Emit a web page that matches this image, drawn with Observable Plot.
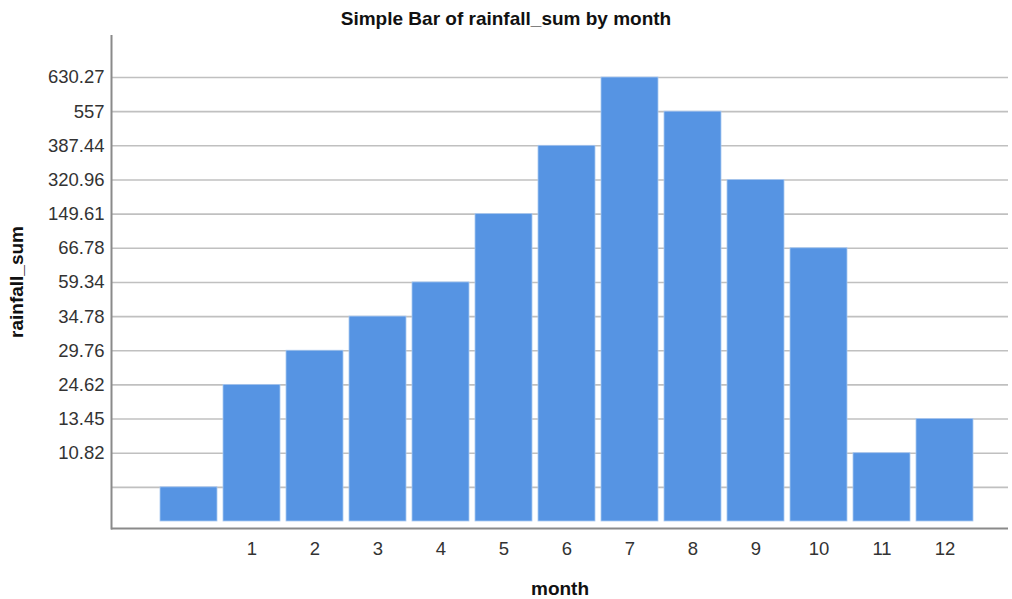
<!DOCTYPE html>
<html>
<head>
<meta charset="utf-8">
<script src="https://cdn.jsdelivr.net/npm/d3@7"></script>
<script src="https://cdn.jsdelivr.net/npm/@observablehq/plot@0.6"></script>
<style>
  body { margin: 0; background: #fff; font-family: Arial, "Liberation Sans", sans-serif; }
  #title { height: 35px; width: 1012px; text-align: center; font-weight: bold; font-size: 19px; line-height: 38px; color: #111; white-space: nowrap; }
  svg { display: block; }
</style>
</head>
<body>
<div id="title">Simple Bar of rainfall_sum by month</div>
<div id="chart"></div>
<script>
// Category order of the x axis (first category is blank / missing)
const months = ["", "1", "2", "3", "4", "5", "6", "7", "8", "9", "10", "11", "12"];
// rainfall_sum per month, as shown (treated as categories by the original chart)
const rainfall = ["", "24.62", "29.76", "34.78", "59.34", "149.61", "387.44", "630.27", "557", "320.96", "66.78", "10.82", "13.45"];
// y-axis categories, bottom to top
const yCategories = ["", "10.82", "13.45", "24.62", "29.76", "34.78", "59.34", "66.78", "149.61", "320.96", "387.44", "557", "630.27"];

const data = months.map((m, i) => ({
  month: m,
  rainfall: rainfall[i],
  level: yCategories.indexOf(rainfall[i]) + 1
}));
const levels = yCategories.map((c, i) => i + 1);

const W = 1012, H = 564;
const chart = Plot.plot({
  width: W,
  height: H,
  marginTop: 0,
  marginLeft: 111,
  marginRight: 4,
  marginBottom: 71,
  style: { fontFamily: "Arial, 'Liberation Sans', sans-serif", fontSize: "18.5px", color: "#333", background: "#fff" },
  x: {
    type: "band",
    domain: months,
    range: [156.5, 976.5],
    paddingInner: 0.1,
    paddingOuter: 0.05
  },
  y: {
    type: "linear",
    domain: [-0.205, 14.23]
  },
  marks: [
    Plot.gridY(levels, { stroke: "#c0c0c0", strokeOpacity: 1, strokeWidth: 1.6 }),
    Plot.barY(data, { x: "month", y: "level", fill: "#5694e3", stroke: "#a9c8f0", strokeWidth: 0.8 }),
    Plot.ruleY([-0.205], { stroke: "#8a8a8a", strokeWidth: 2 }),
    Plot.frame({ anchor: "left", stroke: "#8a8a8a", strokeWidth: 2 }),
    Plot.axisY(levels, {
      tickSize: 0,
      tickPadding: 7,
      tickFormat: d => yCategories[d - 1],
      label: "rainfall_sum",
      labelAnchor: "center",
      labelArrow: "none",
      labelOffset: 102,
      fontSize: 18.5
    }),
    Plot.axisX({
      tickSize: 0,
      tickPadding: 13,
      label: "month",
      labelAnchor: "center",
      labelArrow: "none",
      labelOffset: 66,
      fontSize: 18.5
    })
  ]
});
document.getElementById("chart").appendChild(chart);
d3.select(chart).selectAll('[aria-label="y-axis label"], [aria-label="x-axis label"]')
  .attr("font-weight", "bold").attr("font-size", 19).attr("fill", "#111");
d3.select(chart).selectAll('[aria-label="y-axis label"] text, [aria-label="x-axis label"] text')
  .attr("font-weight", "bold").attr("font-size", 19).attr("fill", "#111");
</script>
</body>
</html>
